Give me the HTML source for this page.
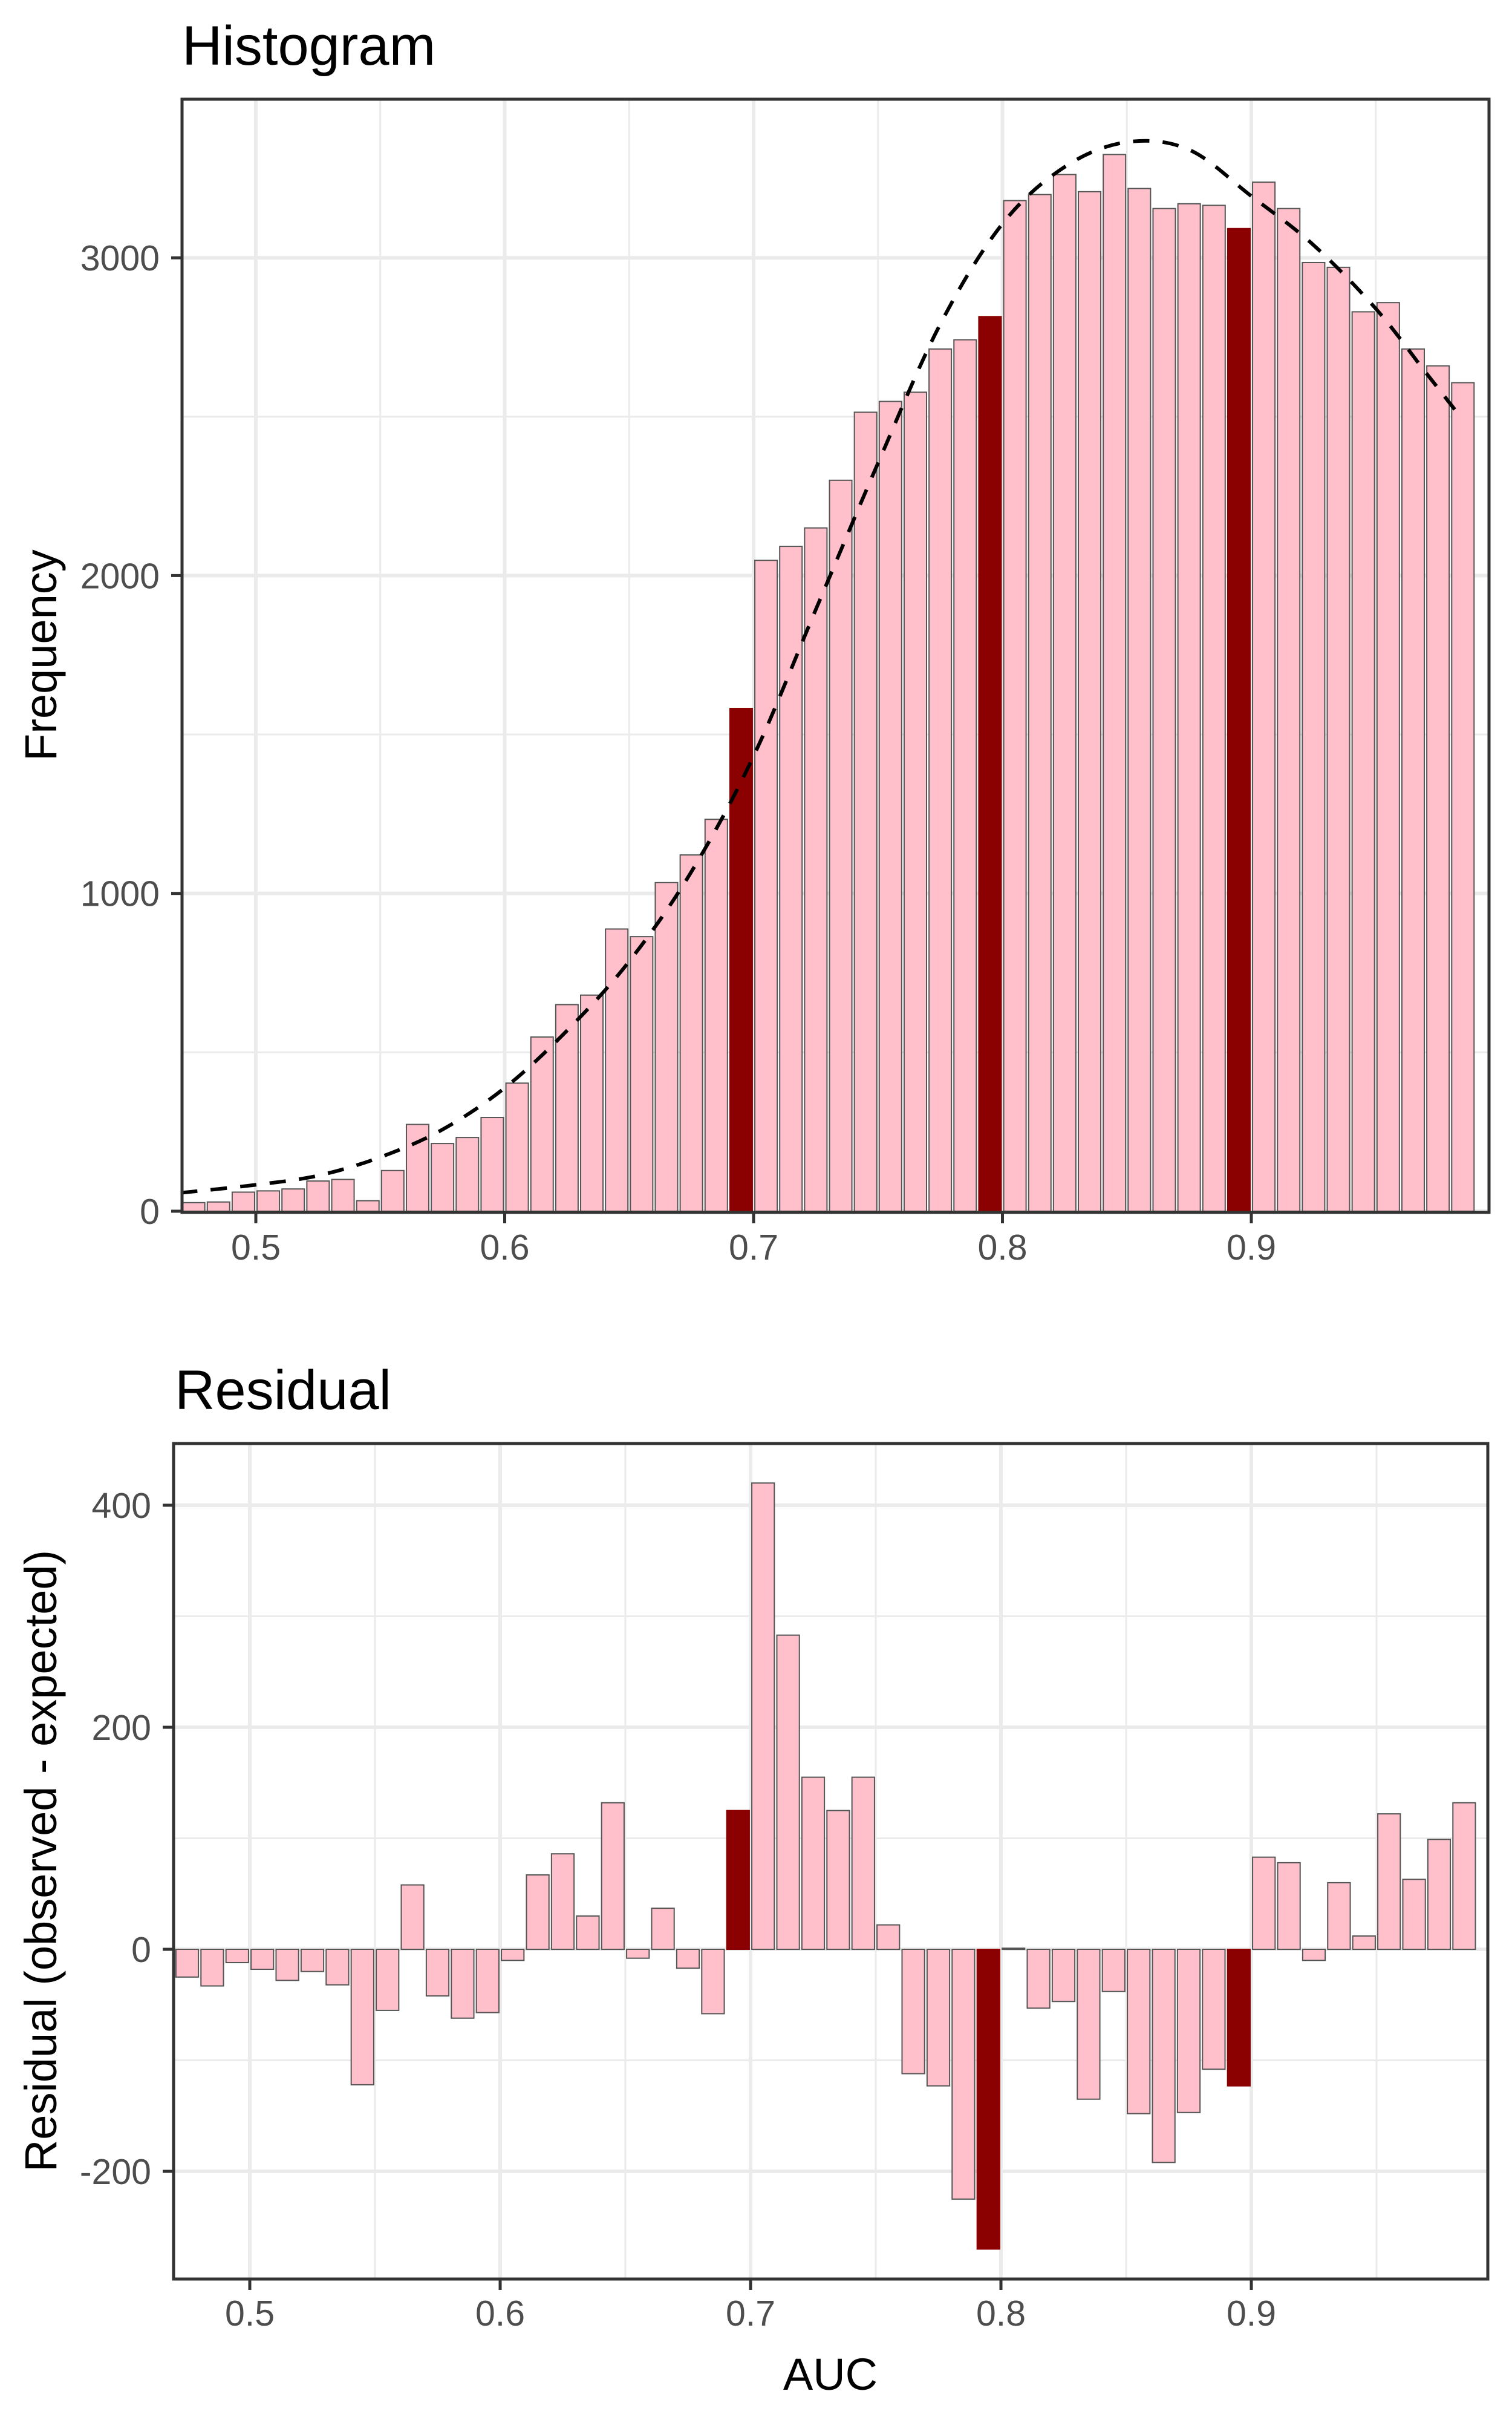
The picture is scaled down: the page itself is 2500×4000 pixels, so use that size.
<!DOCTYPE html>
<html><head><meta charset="utf-8"><style>
html,body{margin:0;padding:0;background:#fff;}
svg{display:block;font-family:"Liberation Sans",Arial,sans-serif;}
</style></head><body>
<svg id="chart" width="2500" height="4000" viewBox="0 0 2500 4000" xmlns="http://www.w3.org/2000/svg">
<rect width="2500" height="4000" fill="#fff"/>
<text x="301" y="107" font-size="92" fill="#000">Histogram</text>
<text x="289" y="2329" font-size="92" fill="#000">Residual</text>
<text transform="translate(93,1083) rotate(-90)" text-anchor="middle" font-size="74" fill="#000">Frequency</text>
<text transform="translate(93,3076) rotate(-90)" text-anchor="middle" font-size="74" fill="#000">Residual (observed - expected)</text>
<text x="1373" y="3950" text-anchor="middle" font-size="74" fill="#000">AUC</text>
<g id="top"></g>
<g id="bot"></g>
</svg>
<script>
const binCenters = [0.475,0.485,0.495,0.505,0.515,0.525,0.535,0.545,0.555,0.565,0.575,0.585,0.595,0.605,0.615,0.625,0.635,0.645,0.655,0.665,0.675,0.685,0.695,0.705,0.715,0.725,0.735,0.745,0.755,0.765,0.775,0.785,0.795,0.805,0.815,0.825,0.835,0.845,0.855,0.865,0.875,0.885,0.895,0.905,0.915,0.925,0.935,0.945,0.955,0.965,0.975,0.985];
const frequency = [27,29,60,64,70,95,100,33,128,273,213,232,295,403,548,650,680,888,864,1034,1121,1233,1582,2048,2092,2150,2300,2514,2548,2577,2713,2742,2815,3180,3199,3262,3208,3325,3218,3155,3170,3165,3092,3238,3155,2985,2970,2830,2859,2713,2660,2607];
const residual = [-25,-33,-12,-18,-28,-20,-32,-122,-55,58,-42,-62,-57,-10,67,86,30,132,-8,37,-17,-58,125,420,283,155,125,155,22,-112,-123,-225,-270,1,-53,-47,-135,-38,-148,-192,-147,-108,-123,83,78,-10,60,12,122,63,99,132];
const highlighted = [0.695,0.795,0.895];
const curveX = [0.47,0.5,0.525,0.55,0.575,0.6,0.625,0.65,0.675,0.7,0.725,0.75,0.775,0.8,0.825,0.85,0.875,0.9,0.925,0.95,0.97,0.985];
const curveY = [58,83,112,170,257,388,568,786,1068,1432,1893,2354,2791,3107,3286,3364,3340,3194,3040,2840,2640,2490];
const xTicks = [0.5,0.6,0.7,0.8,0.9];
const xTickLabels = ["0.5","0.6","0.7","0.8","0.9"];
const xMinor = [0.55,0.65,0.75,0.85,0.95];
const topYTicks = [0,1000,2000,3000];
const topYTickLabels = ["0","1000","2000","3000"];
const topYMinor = [500,1500,2500];
const botYTicks = [-200,0,200,400];
const botYTickLabels = ["-200","0","200","400"];
const botYMinor = [-100,100,300];

const NS="http://www.w3.org/2000/svg";
function mk(parent,tag,attrs){const e=document.createElementNS(NS,tag);for(const k in attrs)e.setAttribute(k,attrs[k]);parent.appendChild(e);return e;}

function panel(g, P, xs, ys, yTicks, yLabels, yMinor, prefix){
  mk(g,'rect',{x:P.l,y:P.t,width:P.r-P.l,height:P.b-P.t,fill:'#fff'});
  yMinor.forEach(v=>{const l=mk(g,'line',{x1:P.l,x2:P.r,y1:ys(v),y2:ys(v),stroke:'#ebebeb','stroke-width':3});
    
    });
  xMinor.forEach(v=>{const l=mk(g,'line',{x1:xs(v),x2:xs(v),y1:P.t,y2:P.b,stroke:'#ebebeb','stroke-width':3});
    
    });
  yTicks.forEach(v=>{const l=mk(g,'line',{x1:P.l,x2:P.r,y1:ys(v),y2:ys(v),stroke:'#ebebeb','stroke-width':6});
    
    });
  xTicks.forEach(v=>{const l=mk(g,'line',{x1:xs(v),x2:xs(v),y1:P.t,y2:P.b,stroke:'#ebebeb','stroke-width':6});
    
    });
}
function axes(g,P,xs,ys,yTicks,yLabels,prefix,xLabY,yLabX){
  mk(g,'rect',{x:P.l,y:P.t,width:P.r-P.l,height:P.b-P.t,fill:'none',stroke:'#333','stroke-width':5});
  yTicks.forEach((v,i)=>{
    mk(g,'line',{x1:P.l-18,x2:P.l,y1:ys(v),y2:ys(v),stroke:'#333','stroke-width':5});
    const t=mk(g,'text',{x:yLabX,y:ys(v)+21,'text-anchor':'end','font-size':59,fill:'#4d4d4d'});
    t.textContent=yLabels[i];
    
    
  });
  xTicks.forEach((v,i)=>{
    mk(g,'line',{x1:xs(v),x2:xs(v),y1:P.b,y2:P.b+18,stroke:'#333','stroke-width':5});
    const t=mk(g,'text',{x:xs(v),y:xLabY,'text-anchor':'middle','font-size':59,fill:'#4d4d4d'});
    t.textContent=xTickLabels[i];
    
    
  });
}
function isHi(c){return highlighted.some(h=>Math.abs(h-c)<1e-6);}

// TOP PANEL
const PT={l:301,r:2462,t:164,b:2004};
const xT=v=>2069+(v-0.9)*4115;
const yT=v=>2002-v*0.5253;
const gt=document.getElementById('top');
panel(gt,PT,xT,yT,topYTicks,topYTickLabels,topYMinor,'histogram');
binCenters.forEach((c,i)=>{
  const x0=xT(c-0.0045), x1=xT(c+0.0045), y=yT(frequency[i]);
  const r=mk(gt,'rect',{x:x0,y:y,width:x1-x0,height:yT(0)-y,fill:isHi(c)?'#8b0000':'#ffc0cb',stroke:isHi(c)?'#8b0000':'#555','stroke-width':2});
  
  
});
(function(){
  const pts=curveX.map((v,i)=>[xT(v),yT(curveY[i])]);
  let d='M'+pts[0][0]+','+pts[0][1];
  for(let i=0;i<pts.length-1;i++){
    const p0=pts[Math.max(0,i-1)],p1=pts[i],p2=pts[i+1],p3=pts[Math.min(pts.length-1,i+2)];
    const c1=[p1[0]+(p2[0]-p0[0])/6,p1[1]+(p2[1]-p0[1])/6];
    const c2=[p2[0]-(p3[0]-p1[0])/6,p2[1]-(p3[1]-p1[1])/6];
    d+=' C'+c1[0]+','+c1[1]+' '+c2[0]+','+c2[1]+' '+p2[0]+','+p2[1];
  }
  const cp=mk(gt,'clipPath',{id:'clipTop'});mk(cp,'rect',{x:PT.l,y:PT.t,width:PT.r-PT.l,height:PT.b-PT.t});
  const p=mk(gt,'path',{d:d,fill:'none',stroke:'#000','stroke-width':6,'stroke-dasharray':'27,22','clip-path':'url(#clipTop)'});
  
  
})();
axes(gt,PT,xT,yT,topYTicks,topYTickLabels,'histogram',2082,264);

// BOTTOM PANEL
const PB={l:287,r:2460,t:2386,b:3767};
const xB=v=>2069+(v-0.9)*4140;
const yB=v=>3222-v*1.835;
const gb=document.getElementById('bot');
panel(gb,PB,xB,yB,botYTicks,botYTickLabels,botYMinor,'residual');
binCenters.forEach((c,i)=>{
  const x0=xB(c-0.0045), x1=xB(c+0.0045), y=yB(residual[i]), z=yB(0);
  const r=mk(gb,'rect',{x:x0,y:Math.min(y,z),width:x1-x0,height:Math.abs(z-y),fill:isHi(c)?'#8b0000':'#ffc0cb',stroke:isHi(c)?'#8b0000':'#555','stroke-width':2});
  
  
});
axes(gb,PB,xB,yB,botYTicks,botYTickLabels,'residual',3844,250);
</script>
</body></html>
